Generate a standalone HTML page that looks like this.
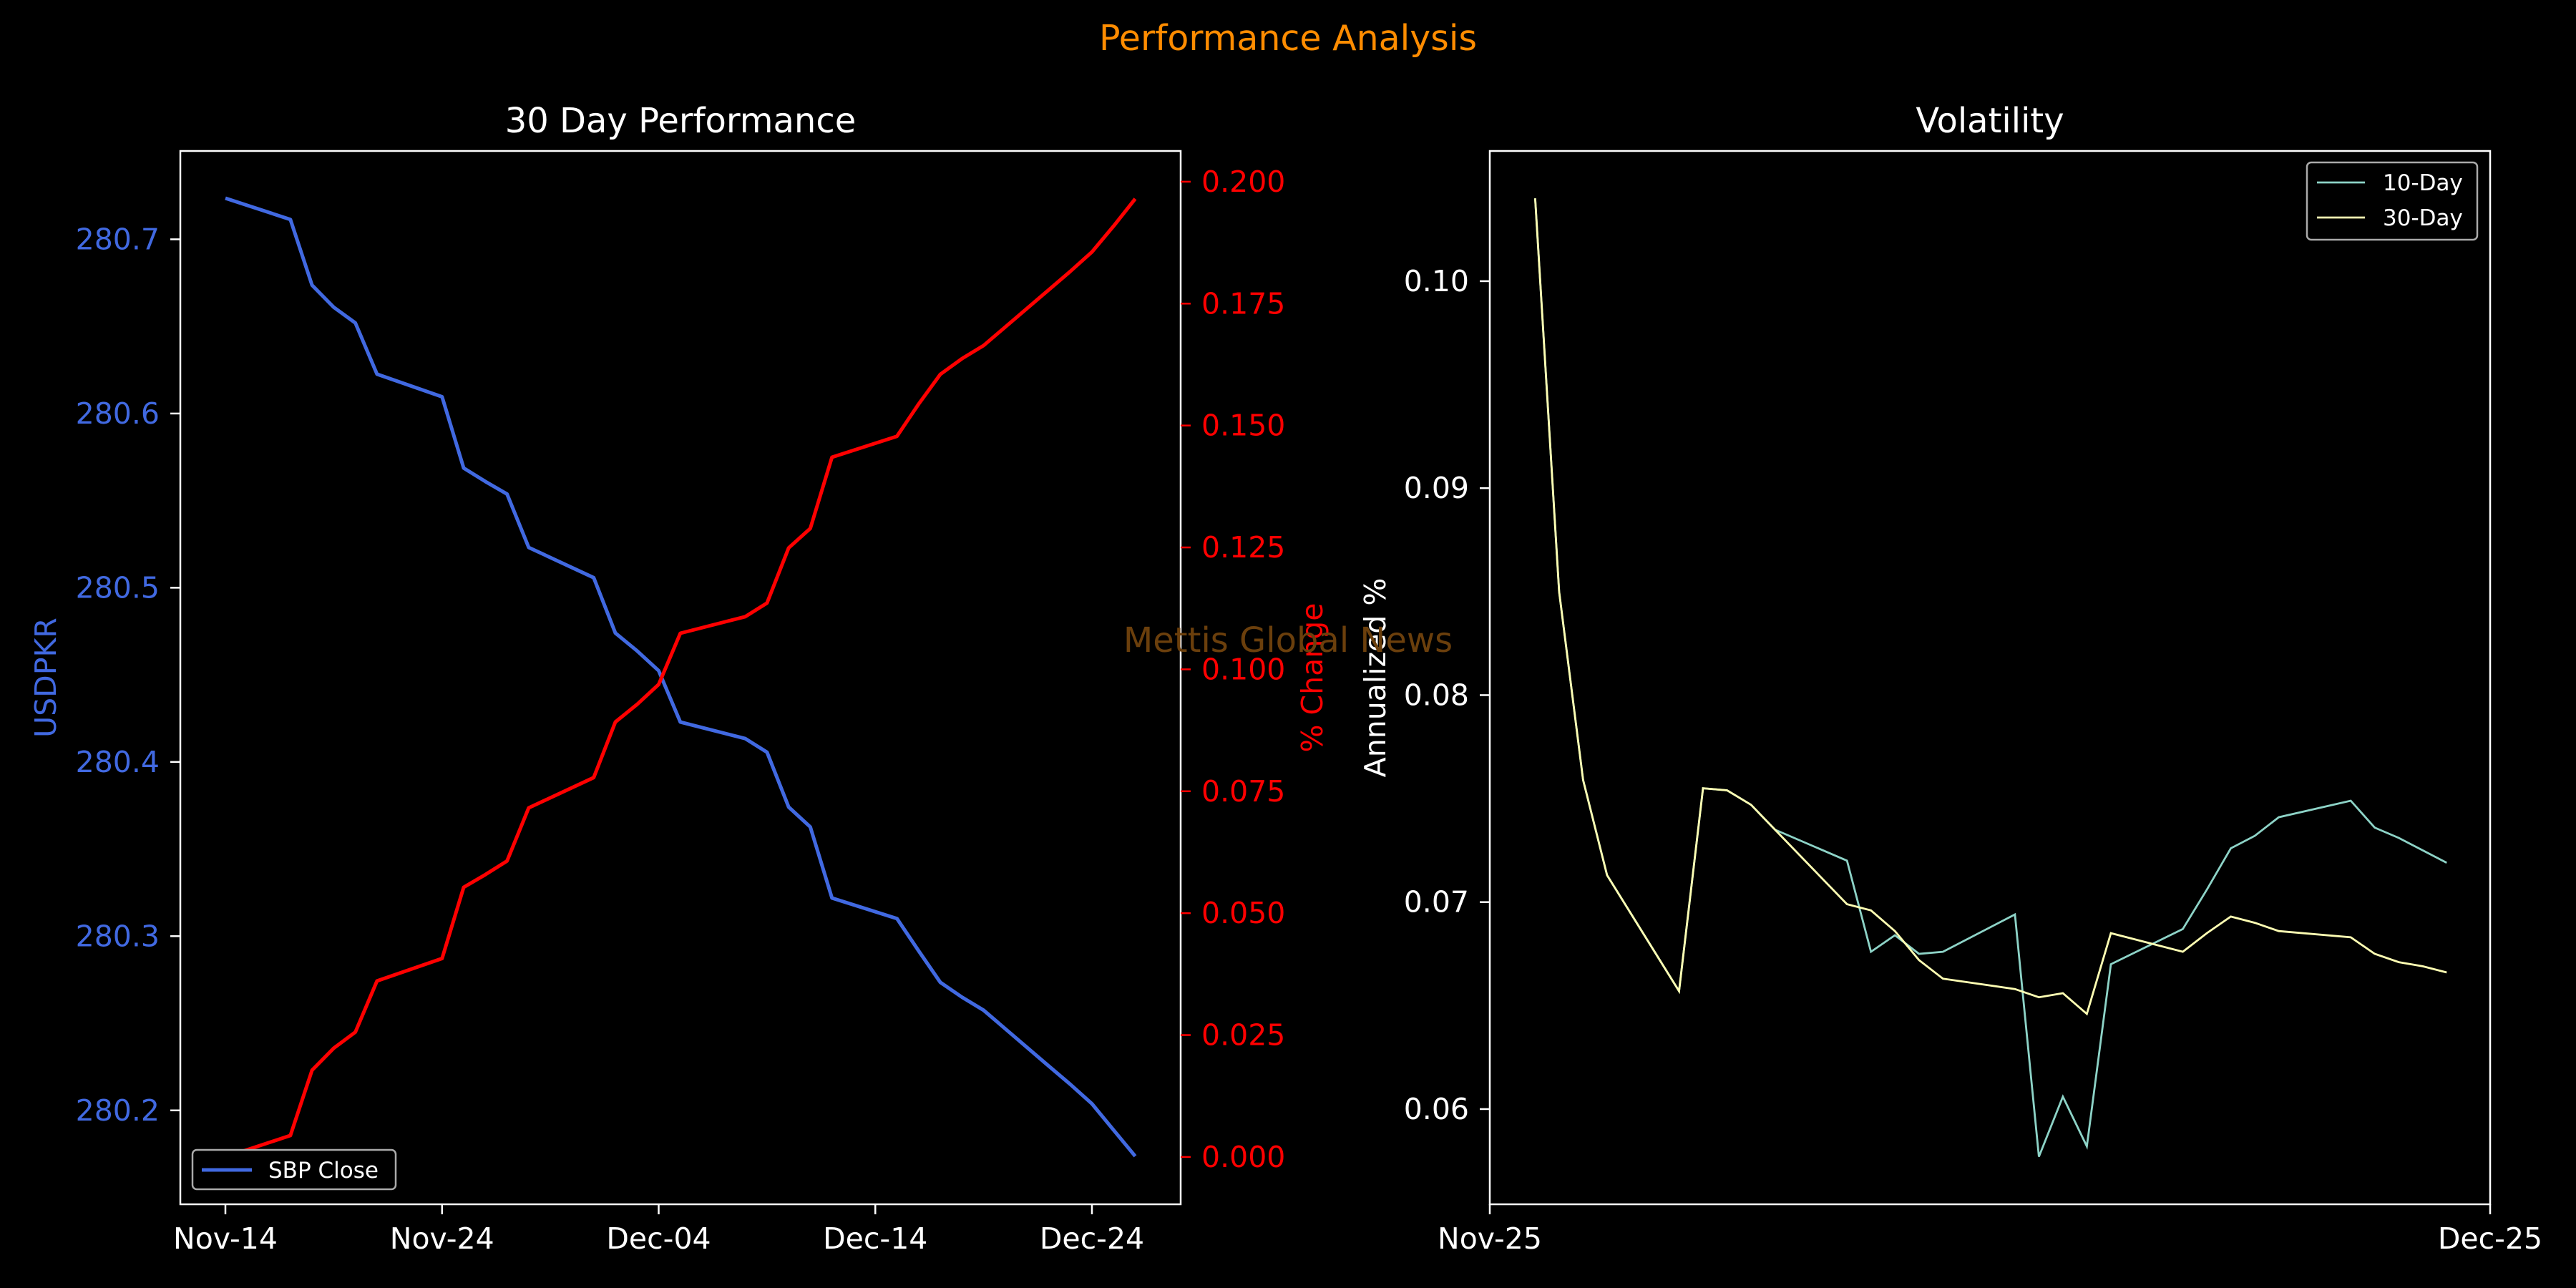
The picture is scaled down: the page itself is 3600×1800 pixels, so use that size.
<!DOCTYPE html>
<html><head><meta charset="utf-8"><style>
html,body{margin:0;padding:0;background:#000;}
svg{display:block;font-family:"DejaVu Sans","Liberation Sans",sans-serif;}
</style></head><body>
<svg id="chart" width="3600" height="1800" viewBox="0 0 3600 1800" xmlns="http://www.w3.org/2000/svg">
<rect width="3600" height="1800" fill="#000"/>
<text x="1800" y="70" text-anchor="middle" font-size="49" fill="#ff8c00">Performance Analysis</text>
<text x="951" y="185" text-anchor="middle" font-size="48" fill="#fff">30 Day Performance</text>
<text x="2781" y="185" text-anchor="middle" font-size="48" fill="#fff">Volatility</text>
<text transform="translate(78,947) rotate(-90)" text-anchor="middle" font-size="41" fill="#4169e1">USDPKR</text>
<text transform="translate(1848,947) rotate(-90)" text-anchor="middle" font-size="41" fill="#ff0000">% Change</text>
<text transform="translate(1936,947) rotate(-90)" text-anchor="middle" font-size="41" fill="#fff">Annualized %</text>
<g id="left"></g><g id="right"></g>
<text x="1800" y="911" text-anchor="middle" font-size="48" fill="#6b3f0c">Mettis Global News</text>
</svg>
<script>
const leftDays=[0,3,4,5,6,7,10,11,12,13,14,17,18,19,20,21,24,25,26,27,28,31,32,33,34,35,38,39,40,41,42];
const sbpClose=[280.7236,280.7114,280.6737,280.661,280.652,280.6226,280.6096,280.5687,280.561,280.5538,280.5231,280.5058,280.474,280.4638,280.4524,280.4229,280.4134,280.4056,280.3741,280.3627,280.3219,280.3101,280.2916,280.2735,280.265,280.2575,280.2255,280.215,280.2038,280.1887,280.1737];
const pctChange=[0,0.0044,0.0178,0.0223,0.0256,0.0361,0.0407,0.0553,0.0579,0.0607,0.0716,0.0778,0.0892,0.0928,0.0969,0.1074,0.1108,0.1136,0.1249,0.1289,0.1435,0.1478,0.1544,0.1605,0.1637,0.1664,0.1778,0.1816,0.1856,0.1909,0.1965];
const leftTickDays=[0,10,20,30,40];
const leftTickLabels=["Nov-14","Nov-24","Dec-04","Dec-14","Dec-24"];
const priceTicks=[280.2,280.3,280.4,280.5,280.6,280.7];
const pctTicks=[0,0.025,0.05,0.075,0.1,0.125,0.15,0.175,0.2];
const volDays=[0,1,2,3,6,7,8,9,10,13,14,15,16,17,20,21,22,23,24,27,28,29,30,31,34,35,36,37,38];
const vol30=[0.1040,0.0850,0.0759,0.0713,0.0657,0.0755,0.0754,0.0747,0.0735,0.0699,0.0696,0.0686,0.0672,0.0663,0.0658,0.0654,0.0656,0.0646,0.0685,0.0676,0.0685,0.0693,0.0690,0.0686,0.0683,0.0675,0.0671,0.0669,0.0666];
const vol10=[0.1040,0.0850,0.0759,0.0713,0.0657,0.0755,0.0754,0.0747,0.0735,0.0720,0.0676,0.0684,0.0675,0.0676,0.0694,0.0577,0.0606,0.0582,0.0670,0.0687,0.0706,0.0726,0.0732,0.0741,0.0749,0.0736,0.0731,0.0725,0.0719];
const volTicks=[0.06,0.07,0.08,0.09,0.10];
const volTickLabels=["0.06","0.07","0.08","0.09","0.10"];
const volXTickLabels=["Nov-25","Dec-25"];

const NS="http://www.w3.org/2000/svg";
function mk(parent,tag,attrs){const e=document.createElementNS(NS,tag);for(const k in attrs)e.setAttribute(k,attrs[k]);parent.appendChild(e);return e;}
const L={x0:252,x1:1650,y0:211,y1:1683};
const lx=d=>315+(d)*(1526-315)/40;
const py=v=>L.y0+(280.7507-v)/(280.7507-280.1461)*(L.y1-L.y0);
const ry=v=>L.y0+(0.2063-v)/(0.2063+0.0097)*(L.y1-L.y0);
const gl=document.getElementById('left');
function path(pts){return pts.map((p,i)=>(i?'L':'M')+p[0].toFixed(1)+','+p[1].toFixed(1)).join(' ');}
let p=mk(gl,'path',{d:path(leftDays.map((d,i)=>[lx(d),py(sbpClose[i])])),fill:'none',stroke:'#4169e1','stroke-width':5,'stroke-linejoin':'round'});


p=mk(gl,'path',{d:path(leftDays.map((d,i)=>[lx(d),ry(pctChange[i])])),fill:'none',stroke:'#ff0000','stroke-width':5,'stroke-linejoin':'round'});


let r=mk(gl,'rect',{x:L.x0,y:L.y0,width:L.x1-L.x0,height:L.y1-L.y0,fill:'none',stroke:'#fff','stroke-width':2.5});


leftTickDays.forEach((d,i)=>{const x=lx(d);mk(gl,'line',{x1:x,x2:x,y1:L.y1,y2:L.y1+14,stroke:'#fff','stroke-width':2.5});
const t=mk(gl,'text',{x:x,y:L.y1+62,'text-anchor':'middle','font-size':41,fill:'#fff'});t.textContent=leftTickLabels[i];

});
priceTicks.forEach(v=>{const y=py(v);mk(gl,'line',{x1:L.x0-14,x2:L.x0,y1:y,y2:y,stroke:'#fff','stroke-width':2.5});
const t=mk(gl,'text',{x:L.x0-29,y:y+14,'text-anchor':'end','font-size':41,fill:'#4169e1'});t.textContent=v.toFixed(1);

});
pctTicks.forEach(v=>{const y=ry(v);mk(gl,'line',{x1:L.x1,x2:L.x1+14,y1:y,y2:y,stroke:'#ff0000','stroke-width':2.5});
const t=mk(gl,'text',{x:L.x1+29,y:y+14,'text-anchor':'start','font-size':41,fill:'#ff0000'});t.textContent=v.toFixed(3);

});
const lg=mk(gl,'g',{});


mk(lg,'rect',{x:269,y:1607,width:284,height:55,rx:6,fill:'#000',stroke:'#aaa','stroke-width':2.5});
mk(lg,'line',{x1:282,x2:352,y1:1635,y2:1635,stroke:'#4169e1','stroke-width':5});
let lt=mk(lg,'text',{x:375,y:1646,'font-size':31,fill:'#fff'});lt.textContent='SBP Close';

const R={x0:2082,x1:3480,y0:211,y1:1683};
const vx=d=>R.x0+(d+1.89)*(R.x1-R.x0)/41.7;
const vy=v=>R.y0+(0.10629-v)/(0.10629-0.0554)*(R.y1-R.y0);
const gr=document.getElementById('right');
p=mk(gr,'path',{d:path(volDays.map((d,i)=>[vx(d),vy(vol10[i])])),fill:'none',stroke:'#8dd3c7','stroke-width':2.8});


p=mk(gr,'path',{d:path(volDays.map((d,i)=>[vx(d),vy(vol30[i])])),fill:'none',stroke:'#ffffb3','stroke-width':2.8});


r=mk(gr,'rect',{x:R.x0,y:R.y0,width:R.x1-R.x0,height:R.y1-R.y0,fill:'none',stroke:'#fff','stroke-width':2.5});


volTicks.forEach((v,i)=>{const y=vy(v);mk(gr,'line',{x1:R.x0-14,x2:R.x0,y1:y,y2:y,stroke:'#fff','stroke-width':2.5});
const t=mk(gr,'text',{x:R.x0-29,y:y+14,'text-anchor':'end','font-size':41,fill:'#fff'});t.textContent=volTickLabels[i];

});
[R.x0,R.x1].forEach((x,i)=>{mk(gr,'line',{x1:x,x2:x,y1:R.y1,y2:R.y1+14,stroke:'#fff','stroke-width':2.5});
const t=mk(gr,'text',{x:x,y:R.y1+62,'text-anchor':'middle','font-size':41,fill:'#fff'});t.textContent=volXTickLabels[i];

});
const rg=mk(gr,'g',{});


mk(rg,'rect',{x:3224,y:227,width:238,height:108,rx:6,fill:'#000',stroke:'#aaa','stroke-width':2.5});
mk(rg,'line',{x1:3238,x2:3305,y1:255,y2:255,stroke:'#8dd3c7','stroke-width':2.8});
mk(rg,'line',{x1:3238,x2:3305,y1:304,y2:304,stroke:'#ffffb3','stroke-width':2.8});
lt=mk(rg,'text',{x:3330,y:266,'font-size':31,fill:'#fff'});lt.textContent='10-Day';
lt=mk(rg,'text',{x:3330,y:315,'font-size':31,fill:'#fff'});lt.textContent='30-Day';
</script>
</body></html>
